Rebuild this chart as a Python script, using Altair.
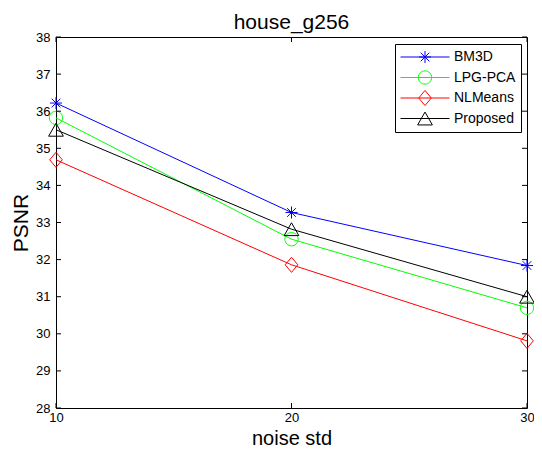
import altair as alt
import pandas as pd
import numpy as np

# ---- data ----
noise_std = [10, 20, 30]
series_names = ["BM3D", "LPG-PCA", "NLMeans", "Proposed"]
bm3d = [36.22, 33.27, 31.84]
lpg_pca = [35.82, 32.55, 30.70]
nlmeans = [34.69, 31.86, 29.81]
proposed = [35.50, 32.82, 31.00]
series_colors = ["#0000ff", "#00ff00", "#ff0000", "#000000"]
x_ticks = [10, 20, 30]
y_ticks = list(range(28, 39))

W, H = 471, 371
FONT = "Liberation Sans"

rows = []
for name, vals in zip(series_names, [bm3d, lpg_pca, nlmeans, proposed]):
    for n, v in zip(noise_std, vals):
        rows.append({"noise": n, "psnr": v, "method": name})
df = pd.DataFrame(rows)


# ---- marker geometry (unit coordinates, scaled by sqrt(size)/2) ----
def fmt(p):
    return f"{p[0]:.3f},{p[1]:.3f}"


def star_path(s):
    d = 0.62 * s
    a = 0.86 * s
    return (f"M{-a:.3f},0L{a:.3f},0M0,{-a:.3f}L0,{a:.3f}"
            f"M{-d:.3f},{-d:.3f}L{d:.3f},{d:.3f}M{-d:.3f},{d:.3f}L{d:.3f},{-d:.3f}")


def circle_path(s):
    r = 0.95 * s
    pts = [(r * np.cos(t), r * np.sin(t)) for t in np.linspace(0, 2 * np.pi, 33)[:-1]]
    return "M" + "L".join(fmt(p) for p in pts) + "Z"


def diamond_path(s):
    w, h = 0.9 * s, 1.08 * s
    return f"M0,{-h:.3f}L{w:.3f},0L0,{h:.3f}L{-w:.3f},0Z"


def triangle_path(s):
    w, h = 1.05 * s, 0.92 * s
    return f"M0,{-h:.3f}L{w:.3f},{h:.3f}L{-w:.3f},{h:.3f}Z"


marker_fns = [star_path, circle_path, diamond_path, triangle_path]
MARKER_SIZE = 196            # r = 7 px
LEGEND_SIZE = 2401           # r = 24.5 px -> 49 px line sample
ls = 7.0 / 24.5
legend_paths = ["M-1,0L1,0" + f(ls) for f in marker_fns]

x_scale = alt.Scale(domain=[10, 30], nice=False, zero=False)
y_scale = alt.Scale(domain=[28, 38], nice=False, zero=False)
x_axis = alt.Axis(values=x_ticks, title="noise std", labelFlush=False,
                  labelPadding=3, titleBaseline="alphabetic", titleY=36.5,
                  titleFontSize=20, format="d")
y_axis = alt.Axis(values=y_ticks, title="PSNR", labelPadding=6,
                  titleBaseline="alphabetic", titleX=-29, format="d")


def xq(field="noise"):
    return alt.X(f"{field}:Q", scale=x_scale, axis=x_axis)


def yq(field="psnr"):
    return alt.Y(f"{field}:Q", scale=y_scale, axis=y_axis)


layers = []
for name, col, fn in zip(series_names, series_colors, marker_fns):
    sub = alt.Chart(df).transform_filter(alt.datum.method == name)
    layers.append(sub.mark_line(strokeWidth=1, color=col).encode(x=xq(), y=yq()))
    layers.append(
        sub.mark_point(shape=fn(1.0), size=MARKER_SIZE, filled=False, color=col,
                       strokeWidth=1, opacity=1)
        .encode(x=xq(), y=yq())
    )

leg = alt.Legend(title=None, orient="none", legendX=339, legendY=7,
                 padding=5, strokeColor="#000000", fillColor="#ffffff",
                 cornerRadius=0, symbolSize=LEGEND_SIZE, symbolStrokeWidth=1,
                 labelFont=FONT, labelFontSize=14, labelColor="#000000",
                 labelOffset=4, clipHeight=16, rowPadding=4.5,
                 symbolFillColor="transparent")

legend_layer = alt.Chart(df).transform_filter("false").mark_point(
    filled=False, strokeWidth=1, opacity=1
).encode(
    x=xq(), y=yq(),
    color=alt.Color("method:N", scale=alt.Scale(domain=series_names, range=series_colors),
                    legend=leg),
    shape=alt.Shape("method:N", scale=alt.Scale(domain=series_names, range=legend_paths),
                    legend=leg),
)
layers.append(legend_layer)

ytick_df = pd.DataFrame({"psnr": y_ticks})
xtick_df = pd.DataFrame({"noise": x_ticks})
TL = 5
layers += [
    alt.Chart(ytick_df).mark_rule(color="black", strokeWidth=1).encode(
        y=yq(), x=alt.value(0), x2=alt.value(TL)),
    alt.Chart(ytick_df).mark_rule(color="black", strokeWidth=1).encode(
        y=yq(), x=alt.value(W - TL), x2=alt.value(W)),
    alt.Chart(xtick_df).mark_rule(color="black", strokeWidth=1).encode(
        x=xq(), y=alt.value(H - TL), y2=alt.value(H)),
    alt.Chart(xtick_df).mark_rule(color="black", strokeWidth=1).encode(
        x=xq(), y=alt.value(0), y2=alt.value(TL)),
]

chart = alt.layer(*layers).properties(
    width=W, height=H,
    title=alt.TitleParams("house_g256", font=FONT, fontSize=21, fontWeight="normal",
                          color="#000000", anchor="middle", offset=-2),
    padding={"left": 48, "top": 29, "right": 7, "bottom": 41},
    autosize=alt.AutoSizeParams(type="none"),
).configure_view(
    stroke="#000000", strokeWidth=1
).configure_axis(
    grid=False, ticks=False, domain=False,
    labelFont=FONT, labelFontSize=13, labelColor="#000000",
    titleFont=FONT, titleFontSize=21, titleFontWeight="normal", titleColor="#000000",
    labelOverlap=False,
)

chart.save("out.html", embed_options={"renderer": "svg", "actions": False})
